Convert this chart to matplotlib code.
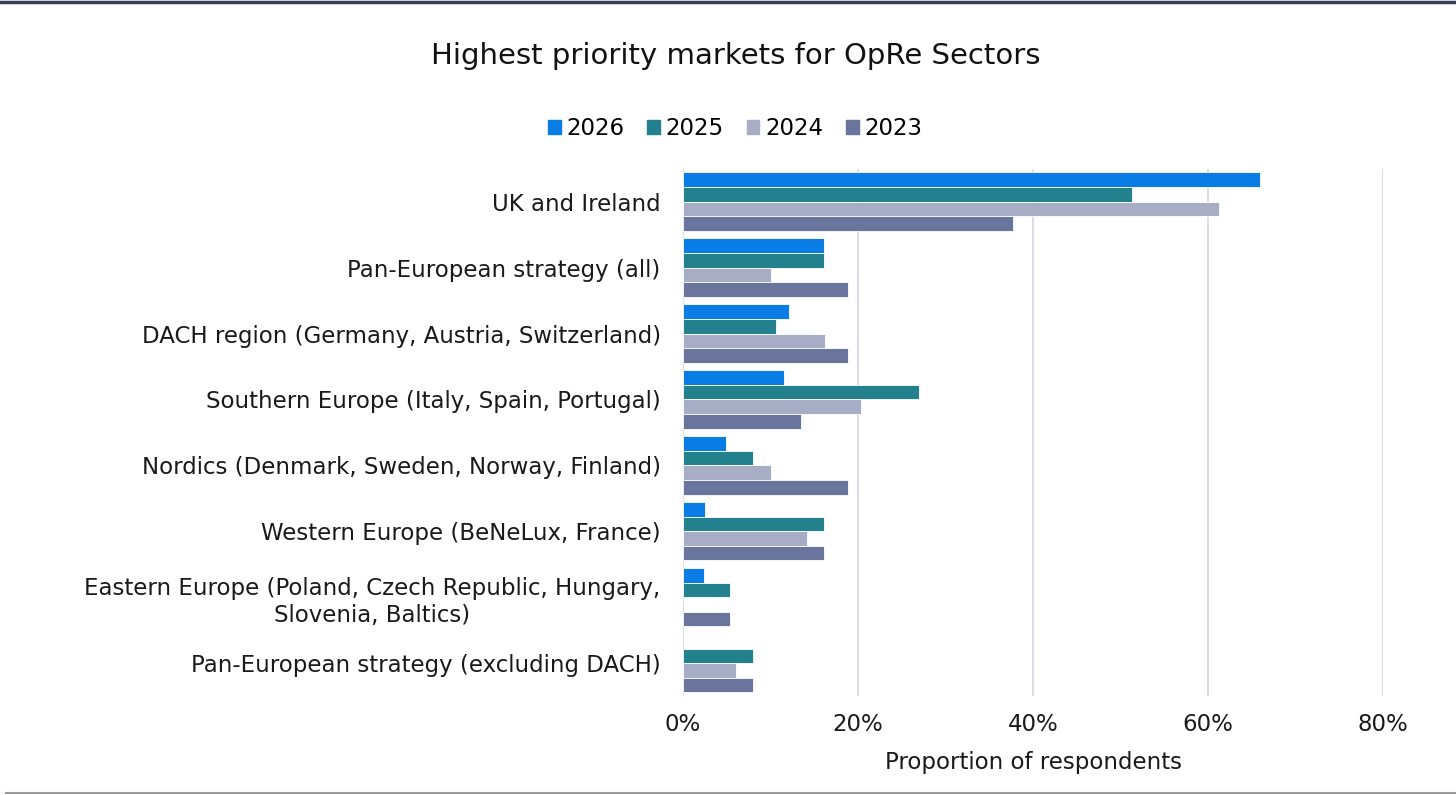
import numpy as np
import matplotlib.pyplot as plt
from matplotlib.lines import Line2D
from matplotlib.ticker import PercentFormatter

plt.rcParams['font.family'] = ['DejaVu Sans']

categories = [
    'UK and Ireland',
    'Pan-European strategy (all)',
    'DACH region (Germany, Austria, Switzerland)',
    'Southern Europe (Italy, Spain, Portugal)',
    'Nordics (Denmark, Sweden, Norway, Finland)',
    'Western Europe (BeNeLux, France)',
    'Eastern Europe (Poland, Czech Republic, Hungary,\nSlovenia, Baltics)',
    'Pan-European strategy (excluding DACH)',
]
years = ['2026', '2025', '2024', '2023']
v2026 = [0.659, 0.161, 0.121, 0.115, 0.049, 0.025, 0.024, 0.0]
v2025 = [0.513, 0.161, 0.106, 0.270, 0.080, 0.161, 0.054, 0.080]
v2024 = [0.613, 0.101, 0.162, 0.203, 0.101, 0.142, 0.0, 0.061]
v2023 = [0.377, 0.189, 0.189, 0.135, 0.189, 0.161, 0.054, 0.080]
colors = ['#0a7ce6', '#23818e', '#a8adc6', '#6a759e']

fig = plt.figure(figsize=(14.56, 7.95), dpi=100)
ax = fig.add_axes([0.469, 0.124, 0.481, 0.664])

y = np.arange(len(categories))
h = 0.22
series = [v2026, v2025, v2024, v2023]
for i, (vals, c, lab) in enumerate(zip(series, colors, years)):
    lw = [0.6 if v > 0 else 0 for v in vals]
    ax.barh(y - 1.5 * h + i * h, vals, height=h, color=c, label=lab,
            edgecolor='white', linewidth=lw, zorder=3)

ax.set_ylim(len(categories) - 0.5, -0.5)
ax.set_xlim(0, 0.8)
ax.set_xticks([0, 0.2, 0.4, 0.6, 0.8])
ax.xaxis.set_major_formatter(PercentFormatter(1.0, decimals=0))
ax.set_yticks(y)
ax.set_yticklabels(categories, fontsize=16.5, color='#1a1a1a', linespacing=1.2)
for t in ax.get_yticklabels():
    t.set_multialignment('center')
ax.tick_params(axis='x', labelsize=16.5, colors='#1a1a1a', length=0, pad=12)
ax.tick_params(axis='y', length=0, pad=16)
ax.grid(axis='x', color='#dcdce8', linewidth=1.5, zorder=0)
for s in ax.spines.values():
    s.set_visible(False)
ax.set_xlabel('Proportion of respondents', fontsize=16.5, color='#1a1a1a', labelpad=11)

fig.text(0.505, 0.93, 'Highest priority markets for OpRe Sectors', ha='center',
         va='center', fontsize=21, color='#111111')

handles = [plt.Rectangle((0, 0), 1, 1, color=c) for c in colors]
fig.legend(handles, years, loc='center', bbox_to_anchor=(0.505, 0.838), ncol=4,
           frameon=False, fontsize=16.5, handlelength=0.55, handleheight=0.55,
           handletextpad=0.25, columnspacing=1.0)

# frame lines
fig.add_artist(Line2D([0, 1], [0.9975, 0.9975], color='#3a3f55', linewidth=2.5,
                      transform=fig.transFigure))
fig.add_artist(Line2D([0.004, 1], [0.002, 0.002], color='#9a9a9a', linewidth=1.5,
                      transform=fig.transFigure))

fig.savefig('out.png', dpi=100)
